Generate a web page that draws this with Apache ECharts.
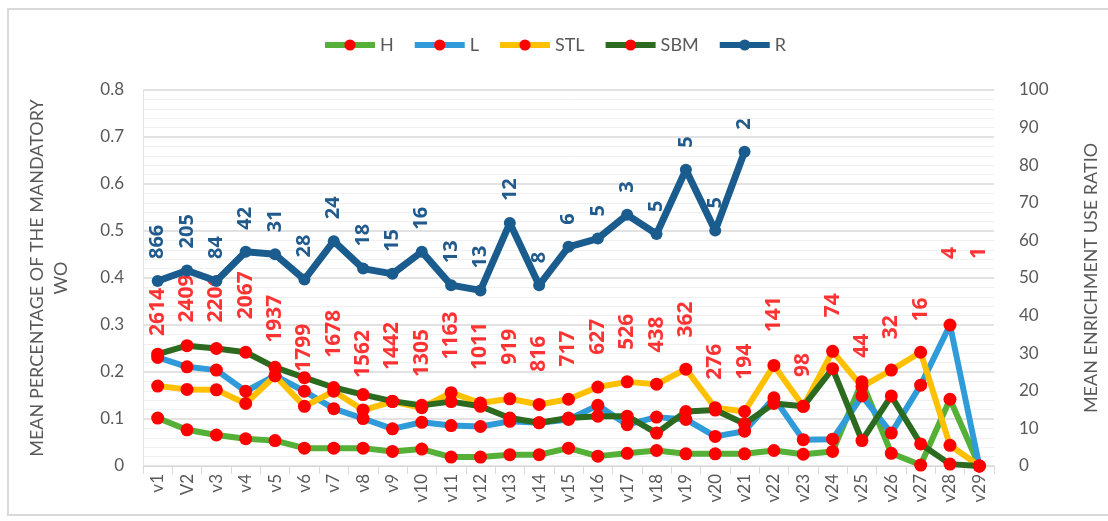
<!DOCTYPE html>
<html>
<head>
<meta charset="utf-8">
<script src="https://cdn.jsdelivr.net/npm/echarts@6/dist/echarts.min.js"></script>
<style>
  html, body { margin: 0; padding: 0; background: #fff; }
  #chart { width: 1108px; height: 521px; }
</style>
</head>
<body>
<div id="chart"></div>
<script>
const categories = ["v1", "V2", "v3", "v4", "v5", "v6", "v7", "v8", "v9", "v10",
  "v11", "v12", "v13", "v14", "v15", "v16", "v17", "v18", "v19", "v20",
  "v21", "v22", "v23", "v24", "v25", "v26", "v27", "v28", "v29"];

const seriesH = [0.102, 0.077, 0.066, 0.058, 0.054, 0.038, 0.038, 0.038, 0.031, 0.036,
  0.019, 0.019, 0.024, 0.024, 0.038, 0.021, 0.027, 0.033, 0.026, 0.026,
  0.026, 0.033, 0.025, 0.031, 0.179, 0.027, 0.002, 0.142, 0];
const seriesL = [0.231, 0.211, 0.204, 0.159, 0.192, 0.159, 0.122, 0.101, 0.079, 0.093,
  0.086, 0.084, 0.095, 0.092, 0.099, 0.129, 0.088, 0.104, 0.099, 0.063,
  0.074, 0.145, 0.056, 0.057, 0.149, 0.070, 0.172, 0.300, 0];
const seriesSTL = [0.170, 0.163, 0.162, 0.133, 0.192, 0.127, 0.159, 0.119, 0.137, 0.124,
  0.156, 0.134, 0.143, 0.131, 0.142, 0.168, 0.179, 0.174, 0.206, 0.124,
  0.116, 0.214, 0.127, 0.244, 0.169, 0.204, 0.242, 0.044, 0];
const seriesSBM = [0.238, 0.256, 0.250, 0.242, 0.210, 0.188, 0.167, 0.152, 0.138, 0.129,
  0.137, 0.127, 0.102, 0.092, 0.102, 0.106, 0.106, 0.070, 0.116, 0.119,
  0.090, 0.133, 0.127, 0.207, 0.054, 0.149, 0.047, 0.004, 0];
// R is on the right axis, only up to v21
const seriesR = [49.2, 52.0, 49.2, 57.0, 56.3, 49.6, 59.8, 52.5, 51.1, 57.0,
  48.1, 46.7, 64.6, 48.1, 58.3, 60.5, 66.8, 61.7, 78.8, 62.6, 83.6];
const rLabels = [866, 205, 84, 42, 31, 28, 24, 18, 15, 16, 13, 13, 12, 8, 6, 5, 3, 5, 5, 5, 2];

// red count labels and the height (left axis) where each one sits
const counts = [2614, 2409, 2206, 2067, 1937, 1799, 1678, 1562, 1442, 1305,
  1163, 1011, 919, 816, 717, 627, 526, 438, 362, 276,
  194, 141, 98, 74, 44, 32, 16, 4, 1];
const countLabelAt = [0.269, 0.298, 0.298, 0.305, 0.255, 0.193, 0.223, 0.180, 0.197, 0.182,
  0.219, 0.197, 0.208, 0.193, 0.204, 0.229, 0.240, 0.234, 0.266, 0.176,
  0.176, 0.277, 0.182, 0.309, 0.223, 0.262, 0.300, 0.433, 0.433];

const font = "Lato";
const boldFont = "Open Sans";
const grey = "#595959";
const markerRed = "#FF0000";

function lineSeries(name, data, color) {
  return {
    name: name,
    type: "line",
    data: data,
    symbol: "circle",
    symbolSize: 13,
    lineStyle: { color: color, width: 6 },
    itemStyle: { color: markerRed },
    emphasis: { disabled: true },
  };
}

const chart = echarts.init(document.getElementById("chart"));
chart.setOption({
  animation: false,
  textStyle: { fontFamily: font },
  graphic: [
    {
      type: "rect",
      shape: { x: 8, y: 9, width: 1120, height: 506 },
      style: { fill: "none", stroke: "#D9D9D9", lineWidth: 2 },
      silent: true,
    },
  ],
  legend: {
    data: ["H", "L", "STL", "SBM", "R"],
    top: 31,
    left: "center",
    itemWidth: 50,
    itemHeight: 14,
    itemGap: 18,
    lineStyle: { width: 6 },
    textStyle: { color: grey, fontSize: 18, fontFamily: font },
  },
  grid: { left: 143, right: 107, top: 90, bottom: 55 },
  xAxis: {
    type: "category",
    data: categories,
    boundaryGap: true,
    axisLine: { lineStyle: { color: "#D9D9D9", width: 1 } },
    axisTick: { show: true, length: 8, lineStyle: { color: "#D9D9D9" } },
    axisLabel: { rotate: 90, color: grey, fontSize: 17, margin: 8, fontFamily: font },
  },
  yAxis: [
    {
      type: "value",
      min: 0,
      max: 0.8,
      interval: 0.1,
      name: "MEAN PERCENTAGE OF THE MANDATORY\nWO",
      nameLocation: "middle",
      nameRotate: 90,
      nameGap: 70,
      nameTextStyle: { color: grey, fontSize: 18, lineHeight: 24, fontFamily: font },
      axisLine: { show: true, lineStyle: { color: "#E3E3E3" } },
      axisLabel: { color: grey, fontSize: 17, margin: 19, fontFamily: font },
      splitLine: { lineStyle: { color: "#D9D9D9", width: 1.5 } },
      minorTick: { show: false, splitNumber: 5 },
      minorSplitLine: { show: true, lineStyle: { color: "#F0F0F0", width: 1 } },
    },
    {
      type: "value",
      min: 0,
      max: 100,
      interval: 10,
      position: "right",
      name: "MEAN ENRICHMENT USE RATIO",
      nameLocation: "middle",
      nameRotate: 90,
      nameGap: 88,
      nameTextStyle: { color: grey, fontSize: 18, fontFamily: font },
      axisLine: { show: false },
      axisLabel: { color: grey, fontSize: 17, margin: 25, fontFamily: font },
      splitLine: { show: false },
    },
  ],
  series: [
    lineSeries("H", seriesH, "#55B037"),
    lineSeries("L", seriesL, "#2F9BD8"),
    lineSeries("STL", seriesSTL, "#FFC000"),
    lineSeries("SBM", seriesSBM, "#2B6A1F"),
    {
      name: "R",
      type: "line",
      yAxisIndex: 1,
      data: seriesR,
      symbol: "circle",
      symbolSize: 12,
      lineStyle: { color: "#1B5C8E", width: 7 },
      itemStyle: { color: "#1B5C8E" },
      emphasis: { disabled: true },
      label: {
        show: true,
        position: "top",
        rotate: 90,
        align: "left",
        verticalAlign: "middle",
        distance: 16,
        color: "#215A8C",
        fontSize: 20,
        fontWeight: "bold",
        fontFamily: boldFont,
        formatter: (p) => String(rLabels[p.dataIndex]),
      },
    },
    {
      name: "counts",
      type: "scatter",
      data: countLabelAt,
      symbol: "circle",
      symbolSize: 1,
      itemStyle: { color: "rgba(0,0,0,0)" },
      emphasis: { disabled: true },
      label: {
        show: true,
        position: "top",
        rotate: 90,
        align: "left",
        verticalAlign: "middle",
        distance: 3,
        color: "#FF0000",
        fontSize: 21,
        fontWeight: "bold",
        fontFamily: boldFont,
        formatter: (p) => String(counts[p.dataIndex]),
      },
    },
  ],
});
</script>
</body>
</html>
